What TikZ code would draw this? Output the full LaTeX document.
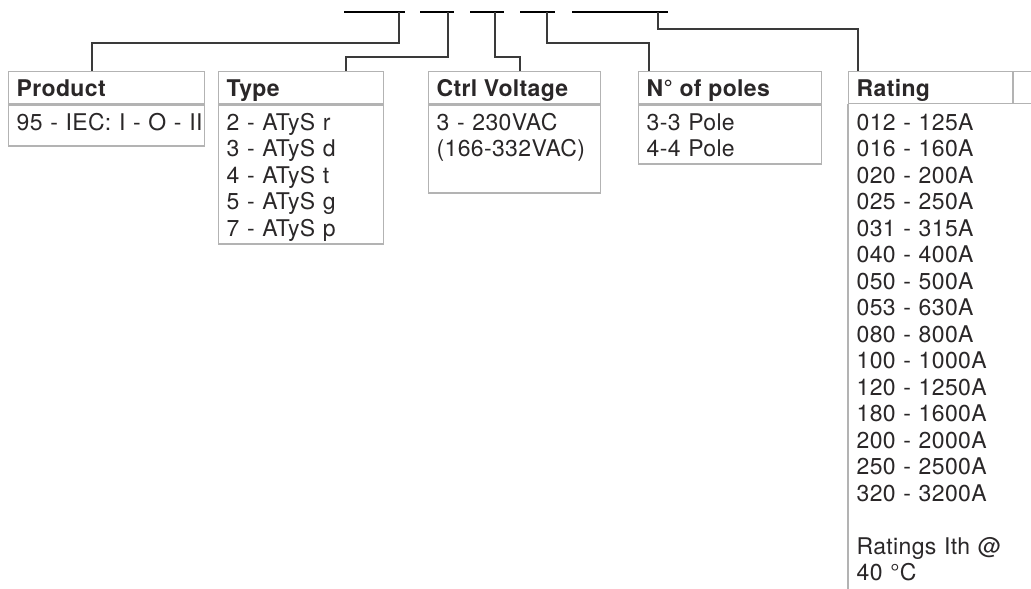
\documentclass[tikz,border=0pt]{standalone}
\usepackage{fontspec}
\setmainfont{TeX Gyre Heros}[LetterSpace=1.5]
\definecolor{inkgray}{HTML}{2A2728}
\definecolor{framegray}{HTML}{B3B3B3}
\definecolor{wiregray}{HTML}{3A3A3A}
\tikzset{
  codebar/.style={line width=2.4pt, black},
  wire/.style={line width=1.2pt, wiregray},
  frame/.style={draw=framegray, line width=1.4pt},
  headbox/.style={frame, minimum height=32pt, anchor=north west, inner sep=0pt},
  bodybox/.style={frame, anchor=north west, inner sep=0pt},
  headtxt/.style={anchor=base west, inner sep=0pt, text=inkgray,
    font=\fontsize{23}{26.5}\selectfont\bfseries},
  listtxt/.style={anchor=base west, inner sep=0pt, text=inkgray, text width=300pt,
    align=left, font=\fontsize{23}{26.5}\selectfont},
}
\begin{document}
\begin{tikzpicture}[x=1pt,y=-1pt]
                    \useasboundingbox (0,0) rectangle (1031,589);
                    \clip (0,0) rectangle (1031,589);
                    % Code bars
                    \foreach \a/\b in {344/405,420/454,470/504,520/555,572/668}
                      \draw[codebar] (\a,12) -- (\b,12);
                    \coordinate (t1) at (399,12);
                    \coordinate (t2) at (448,12);
                    \coordinate (t3) at (495,12);
                    \coordinate (t4) at (547,12);
                    \coordinate (t5) at (658,12);
                    \coordinate (k1) at (92,43);
                    \coordinate (k2) at (346,57);
                    \coordinate (k3) at (520,57);
                    \coordinate (k4) at (649,43);
                    \coordinate (k5) at (858,29);
                    % Product
                    \node[headbox, minimum width=196pt] (prodhead) at (8,71) {};
                    \node[bodybox, minimum width=196pt, minimum height=41pt] (prodbody) at (prodhead.south west) {};
                    \node[headtxt] (prodtitle) at ([xshift=8.5pt,yshift=-9pt]prodhead.west) {Product};
                    \node[listtxt] (prodlist) at ([xshift=8.5pt,yshift=-26pt]prodbody.north west) {95 - IEC: I - O - II};
                    % Type
                    \node[headbox, minimum width=165pt] (typehead) at (218,71) {};
                    \node[bodybox, minimum width=165pt, minimum height=139pt] (typebody) at (typehead.south west) {};
                    \node[headtxt] (typetitle) at ([xshift=8.5pt,yshift=-9pt]typehead.west) {Type};
                    \node[listtxt] (typelist) at ([xshift=8.5pt,yshift=-26pt]typebody.north west)
                      {2 - ATyS r\\3 - ATyS d\\4 - ATyS t\\5 - ATyS g\\7 - ATyS p};
                    % Ctrl Voltage
                    \node[headbox, minimum width=172pt] (volthead) at (428,71) {};
                    \node[bodybox, minimum width=172pt, minimum height=88pt] (voltbody) at (volthead.south west) {};
                    \node[headtxt] (volttitle) at ([xshift=8.5pt,yshift=-9pt]volthead.west) {Ctrl Voltage};
                    \node[listtxt] (voltlist) at ([xshift=8.5pt,yshift=-26pt]voltbody.north west)
                      {3 - 230VAC\\(166-332VAC)};
                    % N° of poles
                    \node[headbox, minimum width=183pt] (polehead) at (638,71) {};
                    \node[bodybox, minimum width=183pt, minimum height=59pt] (polebody) at (polehead.south west) {};
                    \node[headtxt] (poletitle) at ([xshift=8.5pt,yshift=-9pt]polehead.west) {N° of poles};
                    \node[listtxt] (polelist) at ([xshift=8.5pt,yshift=-26pt]polebody.north west)
                      {3-3 Pole\\4-4 Pole};
                    % Rating
                    \node[headbox, minimum width=200pt] (ratehead) at (848,71) {};
                    \coordinate (ratefoot) at (848,589);
                    \draw[frame] ([xshift=165pt]ratehead.north west) -- ([xshift=165pt]ratehead.south west);
                    \draw[frame] (ratehead.south west) -- (ratefoot);
                    \node[headtxt] (ratetitle) at ([xshift=8.5pt,yshift=-9pt]ratehead.west) {Rating};
                    \node[listtxt] (ratelist) at ([xshift=8.5pt,yshift=-26pt]ratehead.south west)
                      {012 - 125A\\016 - 160A\\020 - 200A\\025 - 250A\\031 - 315A\\040 - 400A\\
                       050 - 500A\\053 - 630A\\080 - 800A\\100 - 1000A\\120 - 1250A\\180 - 1600A\\
                       200 - 2000A\\250 - 2500A\\320 - 3200A\\[26.5pt]Ratings Ith @\\40 °C};
                    % Connectors
                    \draw[wire] (t1) |- (k1) -- (k1 |- prodhead.north);
                    \draw[wire] (t2) |- (k2) -- (k2 |- typehead.north);
                    \draw[wire] (t3) |- (k3) -- (k3 |- volthead.north);
                    \draw[wire] (t4) |- (k4) -- (k4 |- polehead.north);
                    \draw[wire] (t5) |- (k5) -- (k5 |- ratehead.north);
                \end{tikzpicture}
\end{document}
